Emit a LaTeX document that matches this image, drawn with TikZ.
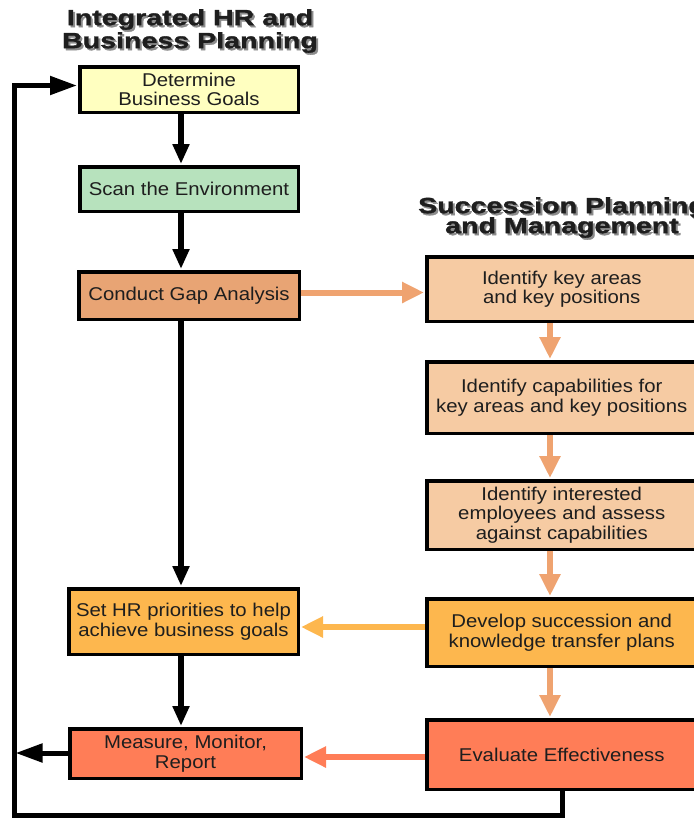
\documentclass[tikz,border=0pt]{standalone}
\usepackage{fontspec}
\setmainfont{Liberation Sans}[FakeStretch=1.1]
\newfontfamily\titlefont{Liberation Sans}[FakeStretch=1.3, BoldFeatures={FakeBold=1.5}]
\usetikzlibrary{arrows.meta,shadows}
\definecolor{cYellow}{HTML}{FFFFC0}
\definecolor{cGreen}{HTML}{B7E2BD}
\definecolor{cGap}{HTML}{E8A474}
\definecolor{cPeach}{HTML}{F6CBA3}
\definecolor{cAmber}{HTML}{FDB74E}
\definecolor{cCoral}{HTML}{FF7D57}
\definecolor{cSalmon}{HTML}{EFA370}
\definecolor{cTxt}{HTML}{1E1E1E}
\definecolor{cShade}{HTML}{8C8C8C}
\newcommand{\shtext}[1]{\makebox[0pt][l]{\hspace{2pt}\raisebox{-2pt}{\textcolor{cShade}{#1}}}#1}
\tikzset{
  box/.style={draw=black, line width=3.5pt, align=center, inner sep=0pt,
    text=cTxt, font=\fontsize{18.5}{19.5}\selectfont,
    drop shadow={shadow xshift=2pt, shadow yshift=-2pt, fill=black, opacity=1}},
  ttl/.style={anchor=north, align=center, inner sep=0pt, text=cTxt, font=\titlefont\bfseries\fontsize{22}{23}\selectfont},
  blk/.style={draw=black, line width=6.5pt, -{Triangle[length=20pt,width=16pt]}, shorten >=1pt},
  loopln/.style={draw=black, line width=5pt},
  looparr/.style={loopln, -{Triangle[length=27pt,width=18pt]}, shorten >=1pt},
  orng/.style={line width=6pt, -{Triangle[length=22pt,width=20pt]}, shorten >=1pt},
}
\begin{document}
\begin{tikzpicture}[x=1pt,y=-1pt]
\useasboundingbox (0,0) rectangle (694,820);
\clip (0,0) rectangle (694,820);
% titles
\node[ttl] (t1) at (190,9) {\shtext{Integrated HR and}\\\shtext{Business Planning}};
\node[ttl] (t2) at (562,197) {\shtext{Succession Planning}\\[-3pt]\shtext{and Management}};
% left column
\node[box, fill=cYellow, minimum width=218.5pt, minimum height=45.5pt] (det) at (189,89.5) {Determine\\Business Goals};
\node[box, fill=cGreen, minimum width=218.5pt, minimum height=44.5pt] (scan) at (189,189) {Scan the Environment};
\node[box, fill=cGap, minimum width=220.5pt, minimum height=47.5pt] (gap) at (189,295.5) {Conduct Gap Analysis};
\node[box, fill=cAmber, minimum width=229.5pt, minimum height=65.5pt] (sethr) at (183.5,621.5) {Set HR priorities to help\\achieve business goals};
\node[box, fill=cCoral, minimum width=231.5pt, minimum height=49.5pt] (meas) at (185.5,753.5) {Measure, Monitor,\\Report};
% right column
\node[box, fill=cPeach, minimum width=270pt, minimum height=64.5pt] (key) at (561.75,289) {Identify key areas\\and key positions};
\node[box, fill=cPeach, minimum width=270pt, minimum height=71.5pt] (cap) at (561.75,397.5) {Identify capabilities for\\key areas and key positions};
\node[box, fill=cPeach, minimum width=270pt, minimum height=68.5pt] (int) at (561.75,515) {Identify interested\\employees and assess\\against capabilities};
\node[box, fill=cAmber, minimum width=270pt, minimum height=67.5pt] (dev) at (561.75,632.5) {Develop succession and\\knowledge transfer plans};
\node[box, fill=cCoral, minimum width=270pt, minimum height=69.5pt] (eval) at (561.75,754.5) {Evaluate Effectiveness};
% helper coordinates
\coordinate (lsp) at (181,0);
\coordinate (rsp) at (550,0);
\coordinate (esp) at (562,0);
\coordinate (cTL) at (14.5,85.5);
\coordinate (cBL) at (14.5,815.5);
\coordinate (yGap) at (0,292.5);
\coordinate (yDev) at (0,627);
\coordinate (yEval) at (0,757);
\coordinate (yMeas) at (0,753);
% black flow
\draw[blk] (det.south -| lsp) -- (scan.north -| lsp);
\draw[blk] (scan.south -| lsp) -- (gap.north -| lsp);
\draw[blk] (gap.south -| lsp) -- (sethr.north -| lsp);
\draw[blk] (sethr.south -| lsp) -- (meas.north -| lsp);
% loop back
\draw[loopln] (eval.south -| esp) -- ++(0,3) |- (cBL) -- (cTL);
\draw[looparr] ([xshift=-2.5pt]cTL) -- (det.west |- cTL);
\draw[looparr] (meas.west |- yMeas) -- (cTL |- yMeas);
% orange flow
\draw[orng, draw=cSalmon] (gap.east |- yGap) -- (key.west |- yGap);
\draw[orng, draw=cSalmon] (key.south -| rsp) -- (cap.north -| rsp);
\draw[orng, draw=cSalmon] (cap.south -| rsp) -- (int.north -| rsp);
\draw[orng, draw=cSalmon] (int.south -| rsp) -- (dev.north -| rsp);
\draw[orng, draw=cSalmon] (dev.south -| rsp) -- (eval.north -| rsp);
\draw[orng, draw=cAmber] (dev.west |- yDev) -- (sethr.east |- yDev);
\draw[orng, draw=cCoral] (eval.west |- yEval) -- (meas.east |- yEval);
\end{tikzpicture}
\end{document}
